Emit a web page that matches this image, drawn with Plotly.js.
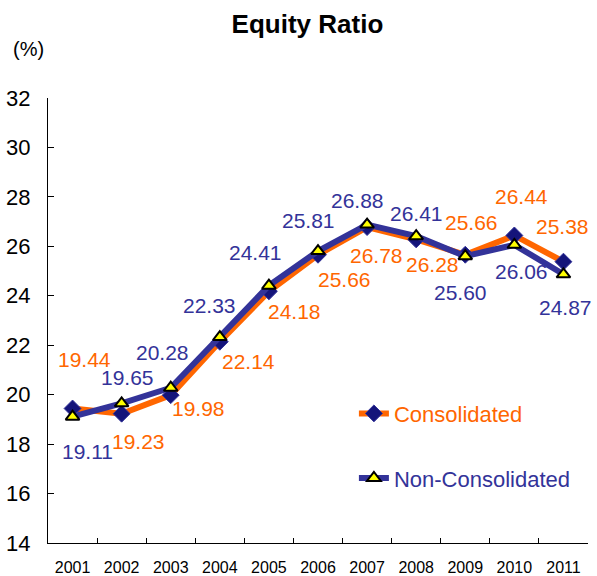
<!DOCTYPE html>
<html>
<head>
<meta charset="utf-8">
<script src="https://cdn.plot.ly/plotly-3.0.1.min.js"></script>
<style>html,body{margin:0;padding:0;background:#fff;}#chart{width:597px;height:576px;}</style>
</head>
<body>
<div id="chart"></div>
<script>
const years = ['2001','2002','2003','2004','2005','2006','2007','2008','2009','2010','2011'];
const consolidated = [19.44, 19.23, 19.98, 22.14, 24.18, 25.66, 26.78, 26.28, 25.66, 26.44, 25.38];
const nonConsolidated = [19.11, 19.65, 20.28, 22.33, 24.41, 25.81, 26.88, 26.41, 25.60, 26.06, 24.87];
const yTicks = [14, 16, 18, 20, 22, 24, 26, 28, 30, 32];

// label offsets in pixels (dx, dy downwards) – style only
const consOffsets = [[12,-49],[17,28],[28,13],[29,20],[26,20],[26,25],[9,28],[16,25],[6,-32],[7,-39],[-1,-35]];
const nonOffsets  = [[15,35],[6,-26],[-8,-35],[-10,-32],[-13,-33],[-10,-31],[-10,-24],[0,-23],[-5,36],[7,27],[2,33]];

const ORANGE = '#FF6600';
const NAVY = '#333399';
const FONT = 'Liberation Sans, Arial, sans-serif';

const traces = [
  {
    x: years, y: consolidated, type: 'scatter', mode: 'lines+markers',
    name: '<span style="color:' + ORANGE + '">Consolidated</span>',
    legendgroup: 'a',
    line: {color: ORANGE, width: 6},
    marker: {symbol: 'diamond', size: 13, color: '#14147a', line: {color: NAVY, width: 1}},
    cliponaxis: false
  },
  {
    x: years, y: nonConsolidated, type: 'scatter', mode: 'lines+markers',
    name: '<span style="color:' + NAVY + '">Non-Consolidated</span>',
    legendgroup: 'b',
    line: {color: NAVY, width: 6},
    marker: {symbol: 'triangle-up', size: 12, color: '#FFFF00', line: {color: '#000000', width: 2}},
    cliponaxis: false
  }
];

const annotations = [];
consolidated.forEach((v, i) => annotations.push({
  x: i, y: v, xref: 'x', yref: 'y', showarrow: false,
  text: v.toFixed(2), xshift: consOffsets[i][0], yshift: -consOffsets[i][1],
  font: {family: FONT, size: 21, color: ORANGE}
}));
nonConsolidated.forEach((v, i) => annotations.push({
  x: i, y: v, xref: 'x', yref: 'y', showarrow: false,
  text: v.toFixed(2), xshift: nonOffsets[i][0], yshift: -nonOffsets[i][1],
  font: {family: FONT, size: 21, color: NAVY}
}));
annotations.push({
  xref: 'paper', yref: 'paper', x: -0.036, y: 1.109, xanchor: 'center', yanchor: 'middle',
  showarrow: false, text: '(%)', font: {family: FONT, size: 20, color: '#000'}
});

const layout = {
  width: 597, height: 576,
  margin: {l: 48, r: 9, t: 98, b: 33},
  paper_bgcolor: '#fff', plot_bgcolor: '#fff',
  font: {family: FONT, color: '#000'},
  title: {
    text: '<b>Equity Ratio</b>',
    font: {family: FONT, size: 26, color: '#000'},
    x: 0.515, xanchor: 'center', xref: 'container',
    y: 0.958, yanchor: 'middle', yref: 'container'
  },
  xaxis: {
    type: 'category', categoryarray: years, range: [-0.5, 10.5],
    showline: true, linecolor: '#000', linewidth: 1,
    ticks: 'inside', ticklen: 5, tickcolor: '#000', tickson: 'boundaries',
    showgrid: false, zeroline: false,
    tickfont: {family: FONT, size: 16, color: '#000'},
    ticklabelstandoff: 10
  },
  yaxis: {
    range: [14, 32], tickvals: yTicks, ticktext: yTicks.map(String),
    showline: true, linecolor: '#000', linewidth: 1,
    ticks: 'inside', ticklen: 6, tickcolor: '#000',
    showgrid: false, zeroline: false,
    tickfont: {family: FONT, size: 22, color: '#000'},
    ticklabelstandoff: 12
  },
  showlegend: true,
  legend: {
    x: 0.5665, xanchor: 'left', y: 0.338, yanchor: 'top',
    traceorder: 'grouped', tracegroupgap: 33,
    bgcolor: 'rgba(0,0,0,0)', borderwidth: 0,
    font: {family: FONT, size: 22}
  },
  annotations: annotations
};

Plotly.newPlot('chart', traces, layout, {displayModeBar: false, staticPlot: true});
</script>
</body>
</html>
